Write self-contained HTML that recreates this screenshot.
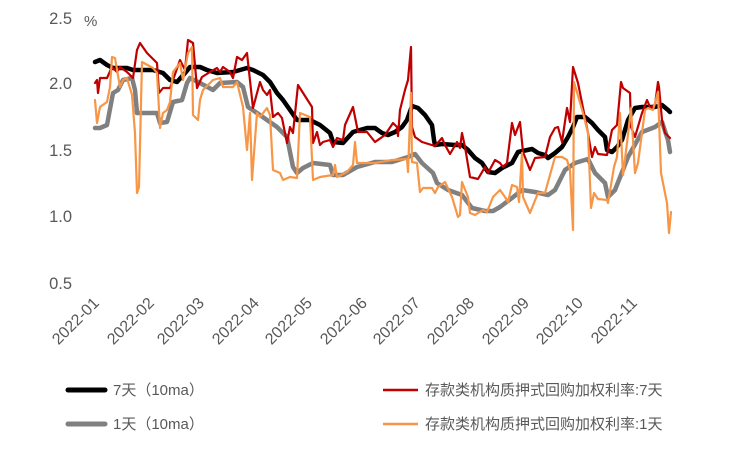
<!DOCTYPE html>
<html><head><meta charset="utf-8"><style>
body{margin:0;background:#fff;width:750px;height:450px;overflow:hidden}
text{font-family:"Liberation Sans","Noto Sans CJK SC",sans-serif;fill:#595959}
</style></head><body>
<svg width="750" height="450" viewBox="0 0 750 450" xmlns="http://www.w3.org/2000/svg">
<g font-size="16.5" text-anchor="end">
<text x="72" y="24">2.5</text><text x="72" y="89">2.0</text><text x="72" y="156">1.5</text><text x="72" y="222">1.0</text><text x="72" y="289">0.5</text>
</g>
<text x="84" y="26" font-size="15">%</text>
<g font-size="16" text-anchor="end">
<text transform="translate(100,304) rotate(-45)">2022-01</text>
<text transform="translate(155,304) rotate(-45)">2022-02</text>
<text transform="translate(205,304) rotate(-45)">2022-03</text>
<text transform="translate(260,304) rotate(-45)">2022-04</text>
<text transform="translate(313,304) rotate(-45)">2022-05</text>
<text transform="translate(368,304) rotate(-45)">2022-06</text>
<text transform="translate(421,304) rotate(-45)">2022-07</text>
<text transform="translate(475,304) rotate(-45)">2022-08</text>
<text transform="translate(530,304) rotate(-45)">2022-09</text>
<text transform="translate(584,304) rotate(-45)">2022-10</text>
<text transform="translate(638,304) rotate(-45)">2022-11</text>
</g>
<g fill="none" stroke-linejoin="round" stroke-linecap="round">
<polyline stroke="#808080" stroke-width="4.5" points="95,128 100,128 107,125 113,93 118,90 123,80 132,78 135,90 137,113 157,113 160,123 167,122 173,102 182,100 187,83 190,78 200,83 213,90 220,83 237,82 243,87 248,107 257,113 267,120 277,127 287,137 293,167 297,173 303,168 313,163 330,165 333,175 343,175 357,167 375,162 392,162 408,157 415,154 422,163 433,173 437,183 448,190 462,195 472,208 485,211 493,211 500,207 512,198 522,190 535,192 548,195 555,190 565,170 575,163 588,159 595,173 605,183 608,197 615,190 628,157 642,132 655,127 662,122 668,140 670,152"/>
<polyline stroke="#000" stroke-width="4.5" points="95,62 100,60 107,65 113,68 127,68 133,70 153,70 163,73 170,80 177,82 185,73 190,67 200,67 207,70 217,73 233,72 247,68 253,70 263,75 270,82 277,93 283,100 290,110 297,120 310,120 320,125 330,133 333,142 343,143 353,132 367,128 375,128 382,133 388,135 395,132 402,127 407,120 412,106 418,108 425,115 432,125 434,140 435,145 442,144 455,145 462,145 468,150 475,158 482,163 488,172 495,173 502,168 512,163 518,152 532,149 538,153 545,155 548,158 555,153 562,147 568,137 573,127 577,117 585,117 592,123 598,130 605,137 607,150 612,152 617,147 622,140 628,120 635,108 642,107 655,107 662,105 668,110 670,112"/>
<polyline stroke="#c00000" stroke-width="2.2" points="95,83 97,80 98,93 100,78 107,78 112,67 117,72 120,67 127,72 133,78 137,50 140,43 147,53 157,63 159,93 163,88 170,88 173,80 180,60 185,70 188,40 193,43 197,88 202,77 210,72 217,68 220,72 223,67 230,72 233,78 237,57 242,60 247,53 253,108 260,82 263,90 267,95 270,90 273,117 278,113 282,118 287,143 290,127 293,133 298,85 312,107 313,143 317,132 320,145 323,142 330,140 333,147 337,138 343,140 345,125 353,107 358,132 367,132 375,142 385,135 393,123 397,127 398,136 400,110 405,90 408,80 411,47 412,127 415,137 422,142 435,146 442,138 445,145 450,154 457,142 460,148 462,133 465,147 470,177 478,179 485,167 488,173 495,160 500,163 503,167 507,163 512,123 515,135 520,122 523,152 530,170 535,158 545,157 550,137 555,128 558,127 562,142 567,108 570,122 573,67 578,83 588,133 592,157 595,147 598,154 607,155 612,130 617,125 621,82 623,88 630,93 631,127 635,137 642,113 647,100 650,107 655,105 658,82 659,87 662,120 665,133 670,138"/>
<polyline stroke="#f79646" stroke-width="2.2" points="95,100 97,123 100,107 107,102 110,87 112,57 115,58 120,87 123,80 127,78 132,95 135,133 137,193 139,187 142,62 153,68 157,73 160,128 163,113 167,110 170,102 173,72 180,63 183,80 188,53 192,47 193,115 198,120 200,100 203,90 213,80 220,78 223,87 233,87 237,82 243,107 247,150 250,113 252,180 257,113 260,117 267,108 270,115 273,170 280,173 283,180 290,177 297,178 300,113 310,117 313,180 320,177 333,175 335,165 337,177 347,172 353,165 355,142 357,163 375,163 392,160 407,159 408,172 411,93 412,162 417,163 420,192 423,188 432,188 435,193 438,187 445,182 452,197 458,217 460,215 462,182 468,197 470,213 475,215 483,210 487,212 493,197 500,190 505,197 508,202 512,185 517,187 519,202 522,153 523,197 530,213 538,193 545,193 555,157 562,157 567,160 570,170 573,230 574,82 583,113 588,133 591,208 594,193 598,199 607,200 608,203 614,167 617,157 620,113 623,175 627,143 631,108 635,173 638,163 645,110 648,108 653,110 658,92 661,173 667,203 669,233 671,212"/>
</g>
<line x1="68" y1="390" x2="105" y2="390" stroke="#000" stroke-width="5" stroke-linecap="round"/>
<text x="113" y="395" font-size="15">7天（10ma）</text>
<line x1="68" y1="424" x2="105" y2="424" stroke="#808080" stroke-width="5" stroke-linecap="round"/>
<text x="113" y="429" font-size="15">1天（10ma）</text>
<line x1="383" y1="390" x2="418" y2="390" stroke="#c00000" stroke-width="2.5"/>
<text x="425" y="395" font-size="15">存款类机构质押式回购加权利率:7天</text>
<line x1="383" y1="424" x2="418" y2="424" stroke="#f79646" stroke-width="2.5"/>
<text x="425" y="429" font-size="15">存款类机构质押式回购加权利率:1天</text>
</svg>
</body></html>
